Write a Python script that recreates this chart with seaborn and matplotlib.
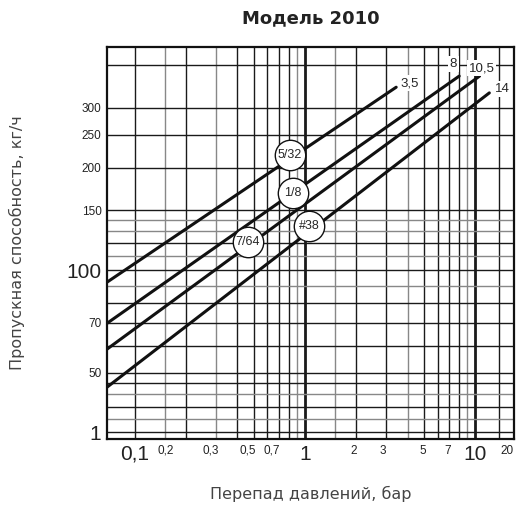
import numpy as np
import pandas as pd
import seaborn as sns
import matplotlib.pyplot as plt

# endpoints of each capacity line (pressure drop, bar ; capacity, kg/h)
series = ['5/32', '1/8', '7/64', '#38']
end_labels = ['3,5', '8', '10,5', '14']
x_start = [0.0685, 0.0685, 0.0685, 0.0685]
y_start = [92.2, 69.8, 58.6, 45.3]
x_end = [3.43, 8.05, 10.6, 12.1]
y_end = [345, 372, 372, 332]

# orifice bubbles on the lines
bubble_x = [0.816, 0.85, 0.46, 1.06]
bubble_y = [218, 169, 121, 135]

# grid
x_grid = [0.1, 0.15, 0.2, 0.3, 0.4, 0.5, 0.6, 0.7, 0.8, 0.9, 1,
          1.5, 2, 3, 4, 5, 6, 7, 8, 9, 10, 13.8]
y_grid = [33.4, 36.5, 39.7, 43.2, 46.5, 50, 60, 70, 80, 90, 100,
          110, 120, 130, 140, 150, 200, 250, 300, 400]

# tick labels as placed in the chart
x_tick_pos = [0.1, 0.152, 0.28, 0.46, 0.64, 1, 1.94, 2.87, 4.94, 6.93, 10, 15.4]
x_tick_lab = ['0,1', '0,2', '0,3', '0,5', '0,7', '1', '2', '3', '5', '7', '10', '20']
y_tick_pos = [33.4, 50, 70, 100, 150, 200, 250, 300]
y_tick_lab = ['1', '50', '70', '100', '150', '200', '250', '300']
big = {'0,1', '1', '10', '100'}

# where the end labels sit relative to the line ends (pixels)
label_dx = [13, -6, 2, 13]
label_dy = [4, 12, 8, 4]

rows = []
for s, x0, y0, x1, y1 in zip(series, x_start, y_start, x_end, y_end):
    rows.append({'series': s, 'dp': x0, 'flow': y0})
    rows.append({'series': s, 'dp': x1, 'flow': y1})
df = pd.DataFrame(rows)

sns.set_style('white')
plt.rcParams['font.family'] = ['DejaVu Sans']
narrow = ['Liberation Sans Narrow', 'Liberation Sans']

fig = plt.figure(figsize=(5.21, 5.14), dpi=100)
ax = fig.add_axes([0.2054, 0.1459, 0.7812, 0.7627])
ax.set_xscale('log')
ax.set_yscale('log')
ax.set_xlim(0.0685, 16.9)
ax.set_ylim(31.9, 453)

for gx in x_grid:
    lw = 2.0 if gx in (1, 10) else 1.0
    col = '#888888' if gx in (0.15, 0.3, 0.9, 1.5, 4, 9) else '#1a1a1a'
    ax.axvline(gx, color=col, lw=lw, zorder=1)
for gy in y_grid:
    col = '#888888' if gy in (36.5, 43.2, 90, 110, 130, 140) else '#1a1a1a'
    ax.axhline(gy, color=col, lw=1.0, zorder=1)

sns.lineplot(data=df, x='dp', y='flow', hue='series', units='series',
             estimator=None, sort=False, palette=['#111111'] * 4,
             linewidth=2.2, legend=False, ax=ax, zorder=3)

for lab, x1, y1, dx, dy in zip(end_labels, x_end, y_end, label_dx, label_dy):
    ax.annotate(lab, (x1, y1), xytext=(dx, dy), textcoords='offset pixels',
                fontsize=9.5, family=narrow, ha='center', va='center', zorder=5,
                bbox=dict(boxstyle='square,pad=0.15', fc='white', ec='none'))

ax.scatter(bubble_x, bubble_y, s=480, facecolor='white', edgecolor='#111111',
           linewidth=1.0, zorder=6)
for lab, bx, by in zip(series, bubble_x, bubble_y):
    ax.text(bx, by, lab, ha='center', va='center', fontsize=9,
            family=narrow, zorder=7)

ax.minorticks_off()
ax.set_xticks(x_tick_pos)
ax.set_xticklabels(x_tick_lab)
ax.set_yticks(y_tick_pos)
ax.set_yticklabels(y_tick_lab)
for t in ax.get_xticklabels() + ax.get_yticklabels():
    t.set_family(narrow)
    t.set_color('#222222')
    t.set_fontsize(15 if t.get_text() in big else 8.5)
ax.tick_params(length=0, pad=4)

for sp in ax.spines.values():
    sp.set_color('#111111')
    sp.set_linewidth(1.6)

ax.set_xlabel('Перепад давлений, бар', fontsize=11.5, color='#444444', labelpad=16)
ax.set_ylabel('Пропускная способность, кг/ч', fontsize=11.5, color='#444444', labelpad=30)
ax.set_title('Модель 2010', fontsize=13, fontweight='bold', color='#222222', pad=17)

fig.savefig('out.png', dpi=100)
